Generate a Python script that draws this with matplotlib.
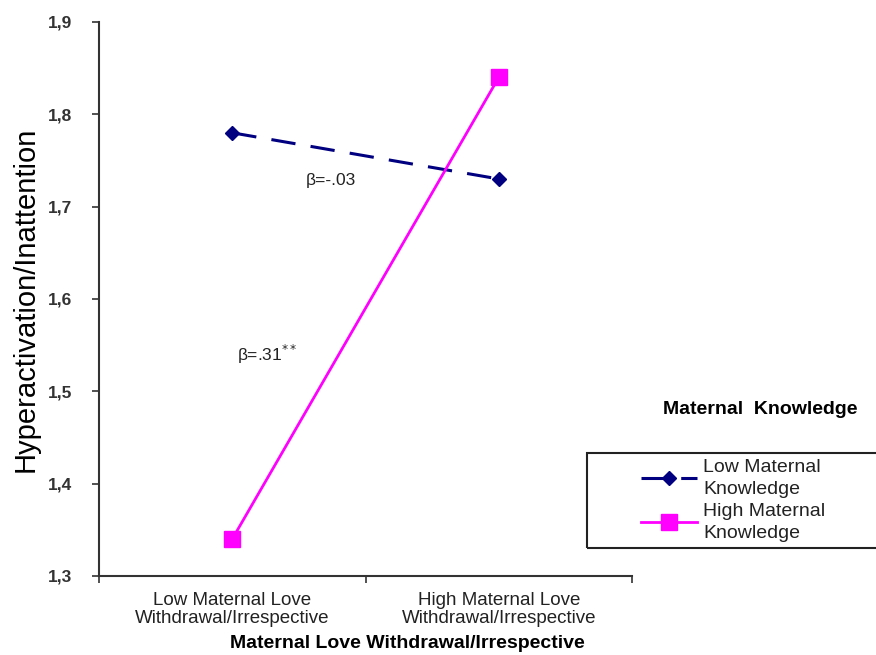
import matplotlib
matplotlib.use('Agg')
import matplotlib.pyplot as plt
from matplotlib.patches import Rectangle

plt.rcParams['font.family'] = ['Liberation Sans', 'DejaVu Sans']

# data
categories = ['Low Maternal Love\nWithdrawal/Irrespective',
              'High Maternal Love\nWithdrawal/Irrespective']
low_knowledge = [1.78, 1.73]
high_knowledge = [1.34, 1.84]
y_ticks = [1.3, 1.4, 1.5, 1.6, 1.7, 1.8, 1.9]
y_tick_labels = ['1,3', '1,4', '1,5', '1,6', '1,7', '1,8', '1,9']

W, H = 876, 655
fig = plt.figure(figsize=(W / 100, H / 100), dpi=100)
ax = fig.add_axes([99 / W, 79 / H, (632 - 99) / W, (576 - 22) / H])

xpos = [0.5, 1.5]
ax.plot(xpos, low_knowledge, color='#000080', linestyle=(0, (8, 5)), linewidth=2.2,
        marker='D', markersize=7, label='Low Maternal\nKnowledge')
ax.plot(xpos, high_knowledge, color='#ff00ff', linestyle='-', linewidth=2,
        marker='s', markersize=11, label='High Maternal\nKnowledge')

ax.set_xlim(0, 2)
ax.set_ylim(1.3, 1.9)
ax.set_xticks([0, 1, 2])
ax.set_xticklabels([])
ax.set_yticks(y_ticks)
ax.set_yticklabels(y_tick_labels, fontsize=12.5, fontweight='bold', color='#333333')
ax.tick_params(axis='both', direction='out', length=5, width=1.2, colors='#333333')
ax.tick_params(axis='y', labelcolor='#333333', pad=14)
for s in ['top', 'right']:
    ax.spines[s].set_visible(False)
for s in ['left', 'bottom']:
    ax.spines[s].set_linewidth(1.5)
    ax.spines[s].set_color('#333333')

for x, lab in zip(xpos, categories):
    ax.text(x, 1.3 - 0.017, lab, ha='center', va='top', fontsize=13.5,
            color='#222222', linespacing=1.12)

ax.text(1.156, 1.3 - 0.064, 'Maternal Love Withdrawal/Irrespective', ha='center', va='top',
        fontsize=14, fontweight='bold')
ax.set_ylabel('Hyperactivation/Inattention', fontsize=21, labelpad=6)

ax.text(0.87, 1.728, 'β=-.03', fontsize=12.5, color='#222222', ha='center', va='center')
ax.text(0.63, 1.54, 'β=.31$^{**}$', fontsize=12.5, color='#222222', ha='center', va='center')

fig.text(760 / W, 1 - 410 / H, 'Maternal  Knowledge', fontsize=14, fontweight='bold',
         ha='center', va='center')

# legend box runs off the right edge like the original
fig.patches.append(Rectangle((587 / W, 1 - 548 / H), 300 / W, 95 / H,
                             transform=fig.transFigure, fill=False,
                             edgecolor='#222222', linewidth=1.5, clip_on=False))

leg = ax.legend(loc='upper left', bbox_to_anchor=(641 / W, 1 - 459 / H),
                bbox_transform=fig.transFigure, frameon=False,
                fontsize=14, handlelength=2.9, labelspacing=0.25, borderpad=0,
                handletextpad=0.3, borderaxespad=0)
for t in leg.get_texts():
    t.set_linespacing(1.4)
    t.set_color('#222222')

fig.savefig('out.png', dpi=100)
